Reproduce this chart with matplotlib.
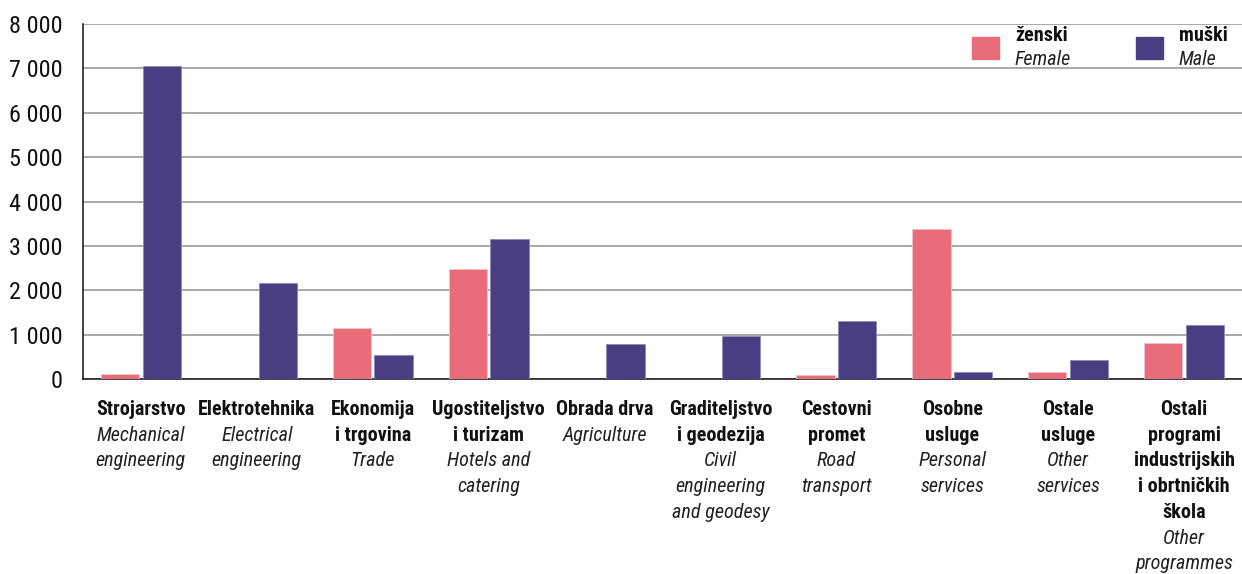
import numpy as np
import matplotlib
matplotlib.use('Agg')
import matplotlib.pyplot as plt
from matplotlib.patches import Rectangle
from matplotlib.ticker import FuncFormatter

plt.rcParams['font.family'] = ['Roboto Condensed', 'DejaVu Sans']

# data
hr_names = [['Strojarstvo'], ['Elektrotehnika'], ['Ekonomija', 'i trgovina'],
            ['Ugostiteljstvo', 'i turizam'], ['Obrada drva'], ['Graditeljstvo', 'i geodezija'],
            ['Cestovni', 'promet'], ['Osobne', 'usluge'], ['Ostale', 'usluge'],
            ['Ostali', 'programi', 'industrijskih', 'i obrtničkih', 'škola']]
en_names = [['Mechanical', 'engineering'], ['Electrical', 'engineering'], ['Trade'],
            ['Hotels and', 'catering'], ['Agriculture'], ['Civil', 'engineering', 'and geodesy'],
            ['Road', 'transport'], ['Personal', 'services'], ['Other', 'services'],
            ['Other', 'programmes']]
female = [110, 0, 1150, 2480, 0, 0, 90, 3380, 160, 810]
male = [7050, 2160, 540, 3150, 790, 970, 1300, 160, 430, 1220]
yticks = [0, 1000, 2000, 3000, 4000, 5000, 6000, 7000, 8000]

c_f = '#E86C7A'
c_m = '#493E82'

fig = plt.figure(figsize=(12.42, 5.74), dpi=100)
ax = fig.add_axes([0.0668, 0.3397, 0.9332, 0.6185])

x = np.arange(len(female))
w = 0.33
ax.bar(x - 0.18, female, w, color=c_f, edgecolor='#f3c0c6', linewidth=0.6, zorder=3)
ax.bar(x + 0.18, male, w, color=c_m, edgecolor='#8f88b8', linewidth=0.6, zorder=3)

ax.set_xlim(-0.5, len(female) - 0.5)
ax.set_ylim(0, 8000)
ax.set_yticks(yticks)
ax.yaxis.set_major_formatter(FuncFormatter(lambda v, p: '{:,}'.format(int(v)).replace(',', ' ')))
ax.tick_params(axis='y', length=0, pad=15, labelsize=17.5, labelcolor='#111111')
ax.tick_params(axis='x', length=0, labelbottom=False)
ax.grid(axis='y', color='#9a9a9a', linewidth=1.2, zorder=0)
for s in ['top', 'right']:
    ax.spines[s].set_visible(False)
ax.spines['left'].set_color('#222222')
ax.spines['bottom'].set_color('#222222')
ax.spines['left'].set_linewidth(1.2)
ax.spines['bottom'].set_linewidth(1.2)

# category labels: bold croatian, italic english
step = 18.5
for i in range(len(hr_names)):
    k = 0
    for line in hr_names[i]:
        ax.annotate(line, xy=(i, 0), xycoords=('data', 'axes fraction'),
                    xytext=(0, -22 - k * step), textcoords='offset points',
                    ha='center', va='center', fontsize=14.5, fontweight='bold', color='#111111')
        k += 1
    for line in en_names[i]:
        ax.annotate(line, xy=(i, 0), xycoords=('data', 'axes fraction'),
                    xytext=(0, -22 - k * step), textcoords='offset points',
                    ha='center', va='center', fontsize=14.5, fontstyle='italic', color='#222222')
        k += 1

# legend
for x0, col, t1, t2 in [(0.767, c_f, 'ženski', 'Female'), (0.9085, c_m, 'muški', 'Male')]:
    ax.add_patch(Rectangle((x0, 0.901), 0.0235, 0.062, transform=ax.transAxes,
                           color=col, clip_on=False, zorder=4))
    ax.text(x0 + 0.037, 0.968, t1, transform=ax.transAxes, fontsize=14.5,
            fontweight='bold', va='center', ha='left', color='#111111')
    ax.text(x0 + 0.037, 0.901, t2, transform=ax.transAxes, fontsize=14.5,
            fontstyle='italic', va='center', ha='left', color='#222222')

plt.savefig('out.png', dpi=100)
